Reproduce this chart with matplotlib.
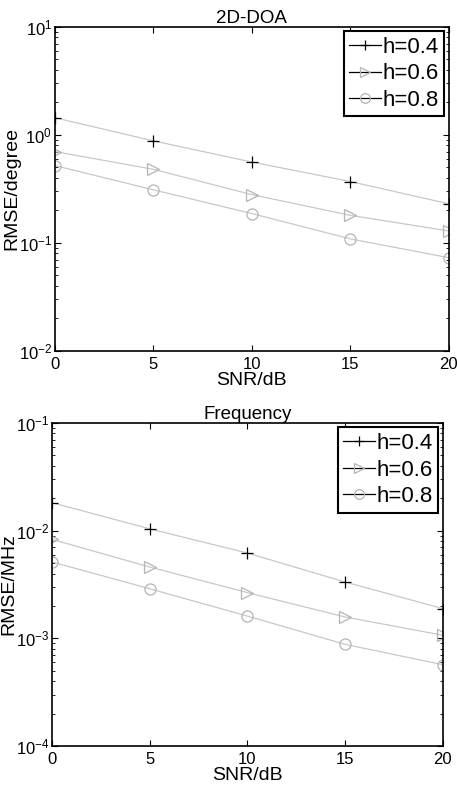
import numpy as np
import matplotlib
matplotlib.use("Agg")
import matplotlib.pyplot as plt
from matplotlib.lines import Line2D
from matplotlib.ticker import LogLocator, FixedLocator

plt.rcParams['font.family'] = ['Liberation Sans', 'DejaVu Sans']
plt.rcParams['mathtext.fontset'] = 'custom'
plt.rcParams['mathtext.rm'] = 'Liberation Sans'

snr = [0, 5, 10, 15, 20]
labels = ['h=0.4', 'h=0.6', 'h=0.8']

# 2D-DOA RMSE (degree)
doa_h04 = [1.44, 0.88, 0.56, 0.37, 0.23]
doa_h06 = [0.70, 0.48, 0.28, 0.18, 0.129]
doa_h08 = [0.52, 0.31, 0.187, 0.109, 0.073]

# Frequency RMSE (MHz)
freq_h04 = [0.0182, 0.0104, 0.0062, 0.00334, 0.00189]
freq_h06 = [0.0083, 0.0046, 0.00266, 0.00158, 0.00107]
freq_h08 = [0.00512, 0.00289, 0.00161, 0.00088, 0.00057]

LINE_GRAY = '#c8c8c8'
MARK_GRAY = '#b4b4b4'
styles = [('+', 'black'), ('>', MARK_GRAY), ('o', MARK_GRAY)]


def draw_panel(ax, series, ylim, title, ylabel):
    for vals, (mk, mc) in zip(series, styles):
        ax.plot(snr, vals, color=LINE_GRAY, lw=0.9, marker=mk, ms=8,
                mec=mc, mfc='none', mew=0.9)
    ax.set_yscale('log')
    ax.set_xlim(0, 20)
    ax.set_ylim(*ylim)
    ax.xaxis.set_major_locator(FixedLocator(snr))
    ax.yaxis.set_major_locator(LogLocator(base=10, numticks=10))
    ax.yaxis.set_minor_locator(LogLocator(base=10, subs=np.arange(2, 10), numticks=10))
    ax.tick_params(which='both', direction='in', top=True, right=True,
                   labelsize=12)
    ax.tick_params(axis='x', pad=4)
    ax.tick_params(axis='y', pad=2)
    ax.tick_params(which='major', length=4)
    ax.tick_params(which='minor', length=2)
    for sp in ax.spines.values():
        sp.set_linewidth(1.2)
    ax.set_title(title, fontsize=13.5, pad=3)
    ax.set_xlabel('SNR/dB', fontsize=14, labelpad=0.5)
    ax.set_ylabel('RMSE/' + ylabel, fontsize=14, labelpad=-1)
    handles = [Line2D([], [], color='black', lw=0.9, marker=mk, ms=7,
                      mec=mc, mfc='none', mew=0.9) for mk, mc in styles]
    leg = ax.legend(handles, labels, loc='upper right', fontsize=16,
                    fancybox=False, framealpha=1, edgecolor='black',
                    borderaxespad=0.2, handlelength=1.45, handletextpad=0.05,
                    labelspacing=0.25, borderpad=0.25)
    leg.get_frame().set_linewidth(1.5)


fig = plt.figure(figsize=(4.57, 7.87), dpi=100)
ax1 = fig.add_axes([0.120, 0.554, 0.862, 0.412])
ax2 = fig.add_axes([0.114, 0.052, 0.855, 0.4105])

draw_panel(ax1, [doa_h04, doa_h06, doa_h08], (1e-2, 1e1), '2D-DOA', 'degree')
draw_panel(ax2, [freq_h04, freq_h06, freq_h08], (1e-4, 1e-1), 'Frequency', 'MHz')

fig.savefig('out.png', dpi=100)
